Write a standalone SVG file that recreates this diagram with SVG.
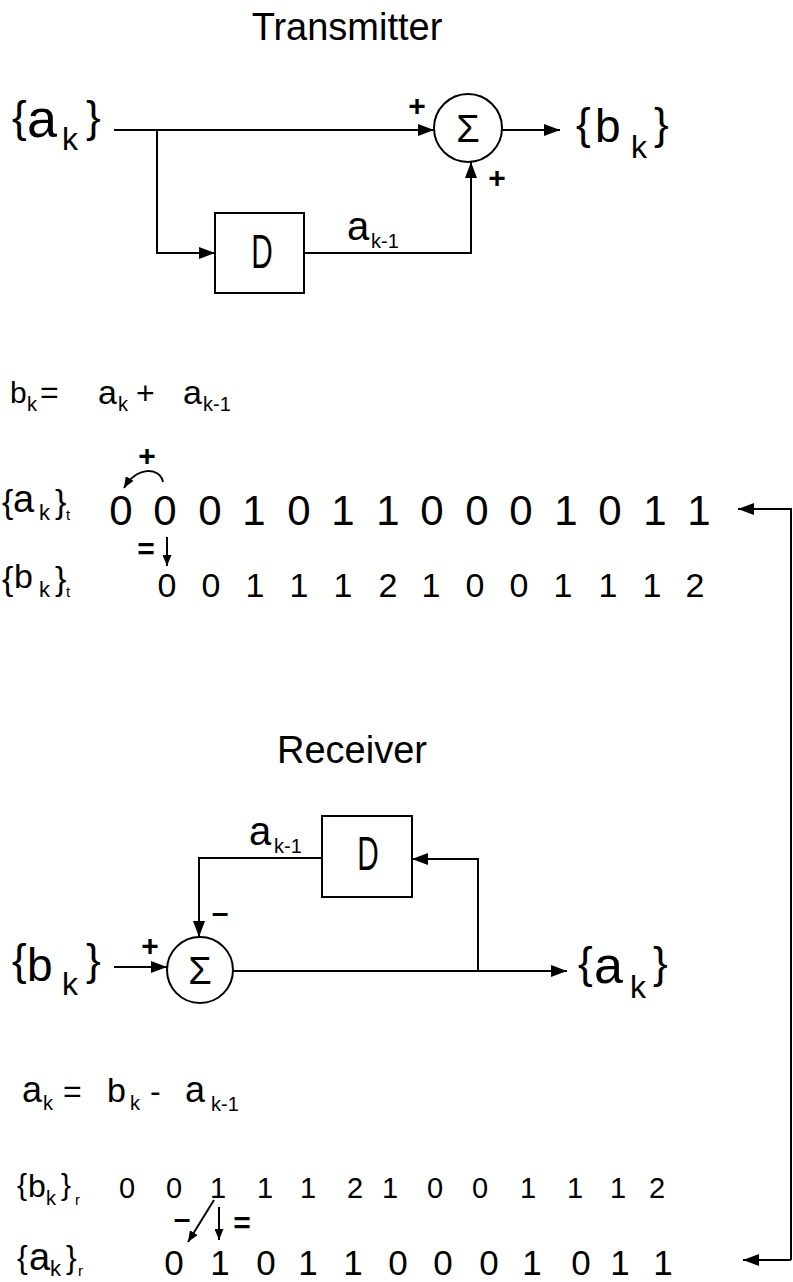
<svg xmlns="http://www.w3.org/2000/svg" width="793" height="1282" viewBox="0 0 793 1282">
<style>
text{font-family:"Liberation Sans",Arial,sans-serif;fill:#000}
.ln{fill:none;stroke:#000;stroke-width:2}
.box{fill:#fff;stroke:#000;stroke-width:2}
.arr{marker-end:url(#ah)}
.sarr{marker-end:url(#sh)}
.pm{font-size:30px;font-weight:bold;text-anchor:middle}
.dg{text-anchor:middle}
.ttl{font-size:38px;text-anchor:middle}
</style>
<defs>
<marker id="ah" markerUnits="userSpaceOnUse" markerWidth="16" markerHeight="12" refX="16" refY="6" orient="auto"><path d="M0,0 L16,6 L0,12 z" fill="#000"/></marker>
<marker id="sh" markerUnits="userSpaceOnUse" markerWidth="11" markerHeight="9" refX="11" refY="4.5" orient="auto"><path d="M0,0 L11,4.5 L0,9 z" fill="#000"/></marker>
</defs>
<rect width="793" height="1282" fill="#fff"/>

<g id="connectors">
<path class="ln arr" d="M114,130 H434"/>
<path class="ln arr" d="M157,130 V253 H215"/>
<path class="ln arr" d="M304,253 H471 V162"/>
<path class="ln arr" d="M502,130 H560"/>
<path class="ln arr" d="M114,967 H167"/>
<path class="ln arr" d="M233,971 H567"/>
<path class="ln arr" d="M478,971 V859 H412"/>
<path class="ln arr" d="M322,858 H199 V937"/>
<path class="ln arr" d="M791,1260 V509 H738"/>
<path class="ln arr" d="M791,1260 H743"/>
<path class="ln sarr" d="M163,482 C160,467 137,466 124,488"/>
<path class="ln sarr" d="M167,537 V566"/>
<path class="ln sarr" d="M214,1200 L188,1242"/>
<path class="ln sarr" d="M219,1207 V1240"/>
</g>

<g id="title-transmitter"><text class="ttl" x="347" y="40">Transmitter</text></g>
<g id="title-receiver"><text class="ttl" x="352" y="763">Receiver</text></g>

<g id="tx-input">
<text x="12" y="132" font-size="44">{</text>
<text x="27" y="137" font-size="54">a</text>
<text x="62" y="150" font-size="32">k</text>
<text x="86" y="132" font-size="44">}</text>
</g>
<g id="tx-delay">
<rect class="box" x="215" y="213" width="89" height="80"/>
<text transform="translate(262,268) scale(0.62,1)" font-size="48" text-anchor="middle">D</text>
</g>
<g id="tx-delay-label">
<text x="347" y="240" font-size="40">a</text>
<text x="371" y="248" font-size="20">k-1</text>
</g>
<g id="tx-sum">
<circle class="box" cx="468" cy="128" r="34"/>
<text x="468" y="142" font-size="38" text-anchor="middle">Σ</text>
<text class="pm" x="417" y="116">+</text>
<text class="pm" x="497" y="188">+</text>
</g>
<g id="tx-output">
<text x="576" y="139" font-size="44">{</text>
<text x="595" y="142" font-size="46">b</text>
<text x="631" y="158" font-size="32">k</text>
<text x="654" y="139" font-size="44">}</text>
</g>

<g id="tx-equation">
<text x="10" y="403" font-size="30">b</text>
<text x="27" y="411" font-size="20">k</text>
<text x="40" y="403" font-size="32">=</text>
<text x="98" y="404" font-size="34">a</text>
<text x="118" y="411" font-size="20">k</text>
<text x="136" y="404" font-size="32">+</text>
<text x="183" y="404" font-size="34">a</text>
<text x="203" y="411" font-size="20">k-1</text>
</g>

<g id="tx-sequences">
<text x="2" y="513" font-size="34">{</text>
<text x="13" y="512" font-size="38">a</text>
<text x="39" y="520" font-size="22">k</text>
<text x="55" y="513" font-size="34">}</text>
<text x="66" y="520" font-size="15">t</text>
<text class="dg" font-size="42" x="121 165 210 254 299 343 388 432 477 521 566 610 655 699" y="525">00010110001011</text>
<text class="pm" x="147" y="466">+</text>
<text class="pm" x="146" y="559">=</text>
<text x="2" y="590" font-size="34">{</text>
<text x="14" y="588" font-size="34">b</text>
<text x="39" y="597" font-size="22">k</text>
<text x="55" y="590" font-size="34">}</text>
<text x="66" y="597" font-size="15">t</text>
<text class="dg" font-size="34" x="167 211 255 299 343 388 431 475 519 563 608 652 695" y="597">0011121001112</text>
</g>

<g id="rx-input">
<text x="12" y="975" font-size="44">{</text>
<text x="27" y="981" font-size="46">b</text>
<text x="62" y="995" font-size="32">k</text>
<text x="86" y="975" font-size="44">}</text>
</g>
<g id="rx-sum">
<circle class="box" cx="200" cy="970" r="33"/>
<text x="200" y="984" font-size="38" text-anchor="middle">Σ</text>
<text class="pm" x="150" y="956">+</text>
<text class="pm" x="220" y="923">–</text>
</g>
<g id="rx-delay">
<rect class="box" x="322" y="816" width="90" height="81"/>
<text transform="translate(368,870) scale(0.62,1)" font-size="48" text-anchor="middle">D</text>
</g>
<g id="rx-delay-label">
<text x="249" y="845" font-size="40">a</text>
<text x="274" y="853" font-size="20">k-1</text>
</g>
<g id="rx-output">
<text x="578" y="978" font-size="44">{</text>
<text x="594" y="983" font-size="52">a</text>
<text x="630" y="998" font-size="32">k</text>
<text x="653" y="978" font-size="44">}</text>
</g>

<g id="rx-equation">
<text x="22" y="1102" font-size="36">a</text>
<text x="43" y="1110" font-size="20">k</text>
<text x="63" y="1102" font-size="32">=</text>
<text x="107" y="1102" font-size="34">b</text>
<text x="130" y="1110" font-size="20">k</text>
<text x="150" y="1102" font-size="32">-</text>
<text x="185" y="1102" font-size="36">a</text>
<text x="211" y="1111" font-size="20">k-1</text>
</g>

<g id="rx-sequences">
<text x="17" y="1195" font-size="30">{</text>
<text x="28" y="1197" font-size="32">b</text>
<text x="46" y="1205" font-size="20">k</text>
<text x="61" y="1195" font-size="30">}</text>
<text x="75" y="1205" font-size="15">r</text>
<text class="dg" font-size="29" x="127 174 218 265 308 355 390 435 480 528 575 618 657" y="1198">0011121001112</text>
<text class="pm" x="182" y="1229">–</text>
<text class="pm" x="242" y="1233">=</text>
<text x="17" y="1268" font-size="32">{</text>
<text x="29" y="1270" font-size="38">a</text>
<text x="50" y="1276" font-size="22">k</text>
<text x="66" y="1268" font-size="32">}</text>
<text x="78" y="1276" font-size="15">r</text>
<text class="dg" font-size="35" x="174 220 266 308 353 398 443 489 532 581 620 663" y="1275">010110001011</text>
</g>
</svg>
